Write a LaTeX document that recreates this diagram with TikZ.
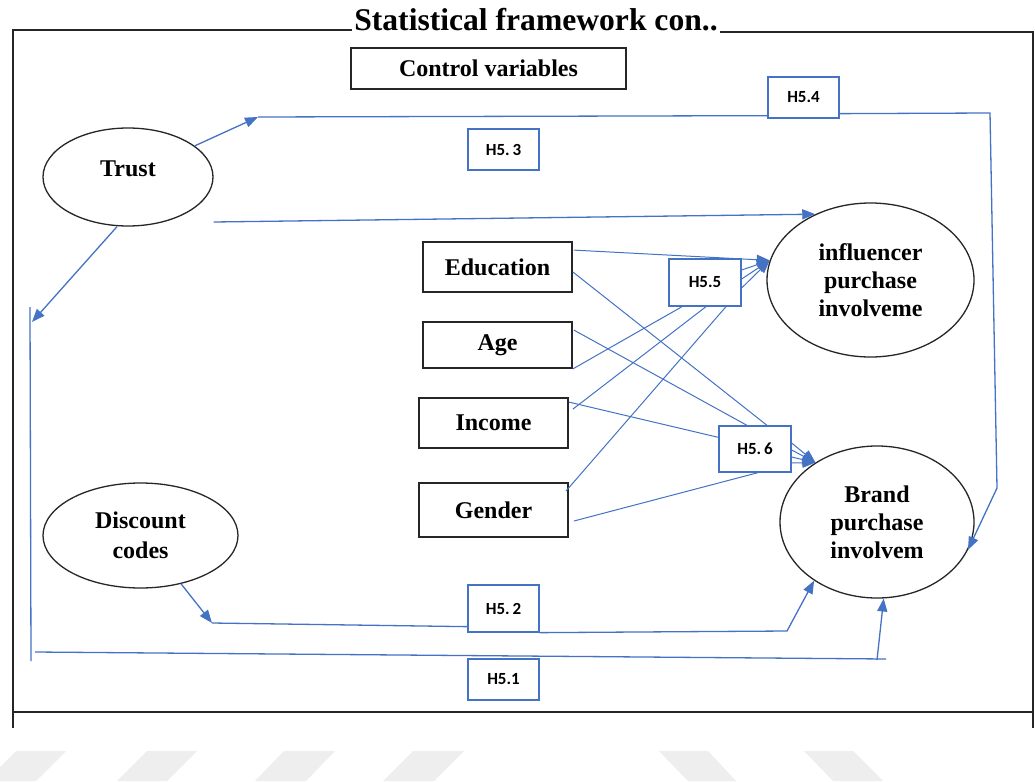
\documentclass[tikz,border=0pt]{standalone}
\usepackage{fontspec}
\setmainfont{Liberation Serif}
\newfontfamily\hfont{Carlito}
\usetikzlibrary{shapes.geometric,arrows.meta,calc}
\definecolor{lnblue}{HTML}{4472C4}
\definecolor{stripegray}{HTML}{EEEEEE}
\begin{document}
\begin{tikzpicture}[x=1pt,y=-1pt,
  blk/.style={draw=black!85, line width=1.8pt, inner sep=0pt, font=\fontsize{24}{28}\selectfont\bfseries, align=center},
  oval/.style={ellipse, draw=black!85, line width=1.3pt, inner sep=0pt, align=center},
  hbox/.style={draw=lnblue, line width=1.3pt, inner sep=0pt, fill=white, font=\hfont\fontsize{17}{19}\selectfont\bfseries},
  ln/.style={draw=lnblue, line width=1.3pt},
  thinln/.style={draw=lnblue, line width=1pt},
  tip/.style={-{Triangle[length=13pt,width=10pt]}},
  frm/.style={draw=black!85, line width=1.8pt}
]
\useasboundingbox (0,0) rectangle (1035,781);
\fill[white] (0,0) rectangle (1035,781);
% watermark stripes
\begin{scope}
\clip (0,0) rectangle (1035,781);
\fill[stripegray] (16,751) -- (66,751) -- (36,781) -- (-14,781) -- cycle;
\fill[stripegray] (147,751) -- (197,751) -- (167,781) -- (117,781) -- cycle;
\fill[stripegray] (284,751) -- (335,751) -- (306,781) -- (255,781) -- cycle;
\fill[stripegray] (413,751) -- (464,751) -- (434,781) -- (383,781) -- cycle;
\fill[stripegray] (659,751) -- (708,751) -- (736,781) -- (688,781) -- cycle;
\fill[stripegray] (804,751) -- (853,751) -- (883,781) -- (833,781) -- cycle;
\end{scope}

% title and frame
\node[font=\fontsize{31.6}{36}\selectfont\bfseries, anchor=base, inner sep=0pt] (title) at (536,31) {Statistical framework con..};
\draw[frm] (13,728) -- (13,30) -- ($(title.base west)+(-2,-1)$);
\draw[frm] ($(title.base east)+(2,1)$) -- (1033,32) -- (1033,728);
\draw[frm] (13,712) -- (1033,712);

% nodes
\node[blk, minimum width=275pt, minimum height=41pt] (ctrl) at (488.5,68.5) {Control variables};
\node[oval, minimum width=170pt, minimum height=98pt, text depth=16pt, font=\fontsize{24}{29}\selectfont\bfseries] (trust) at (128,177) {Trust};
\node[oval, minimum width=195pt, minimum height=105pt, font=\fontsize{24}{30}\selectfont\bfseries] (disc) at (140.5,535.5) {Discount\\codes};
\node[oval, minimum width=207pt, minimum height=154pt, font=\fontsize{24}{28}\selectfont\bfseries] (infl) at (870.5,280) {influencer\\purchase\\involveme};
\node[oval, minimum width=194pt, minimum height=152pt, font=\fontsize{24}{28}\selectfont\bfseries] (brand) at (877,522) {Brand\\purchase\\involvem};

\node[blk, minimum width=149pt, minimum height=50pt] (edu) at (497.5,267) {Education};
\node[blk, minimum width=149pt, minimum height=46pt] (age) at (497.5,345) {Age};
\node[blk, minimum width=149pt, minimum height=50pt] (inc) at (493.5,423) {Income};
\node[blk, minimum width=149pt, minimum height=54pt] (gen) at (493.5,510) {Gender};

\node[hbox, minimum width=71pt, minimum height=41pt] (h54) at (803.5,97.5) {H5.4};
\node[hbox, minimum width=71pt, minimum height=41pt] (h53) at (503.5,149.5) {H5.\,3};
\node[hbox, minimum width=72pt, minimum height=47pt] (h55) at (705,282.5) {H5.5};
\node[hbox, minimum width=72pt, minimum height=46pt] (h56) at (755,449) {H5.\,6};
\node[hbox, minimum width=71pt, minimum height=47pt] (h52) at (503.5,608.5) {H5.\,2};
\node[hbox, minimum width=71pt, minimum height=41pt] (h51) at (503.5,679.5) {H5.1};

% bend / free-end coordinates
\coordinate (a1) at (258,117);
\coordinate (r1) at (990,113);
\coordinate (r2) at (997,488);
\coordinate (t1) at (32,322);
\coordinate (lv1) at (30,307);
\coordinate (lv2) at (31,661);
\coordinate (b1) at (35,652);
\coordinate (b2) at (886,659);
\coordinate (b3) at (877,660);
\coordinate (d1) at (212,623);
\coordinate (d2) at (787,631);

% outer connectors
\draw[ln, tip] (trust.25) -- (a1);
\draw[ln] (a1) -- ($(h54.south west)+(0,-3)$);
\draw[ln, tip] ($(h54.south east)+(0,-5)$) -- (r1) -- (r2) -- (brand.-17);
\draw[ln, tip] ($(trust.east)+(0,45)$) -- (infl.130);
\draw[ln, tip] ($(trust.south)+(-11,0)$) -- (t1);
\draw[ln] (lv1) -- (lv2);
\draw[ln] (b1) -- (b2);
\draw[ln, tip] (b3) -- (brand.-85);
\draw[ln, tip] (disc.-50) -- (d1);
\draw[ln] (d1) -- ($(h52.south west)+(0,-6)$);
\draw[ln, tip] (h52.south east) -- (d2) -- (brand.223);

% control-variable connectors
\draw[thinln, tip] ($(edu.north east)+(1,9)$) -- (infl.169);
\draw[thinln] ($(edu.east)+(0,5)$) -- ($(h56.north)+(12,0)$);
\draw[thinln] ($(age.north east)+(1,9)$) -- ($(h56.north)+(-8,0)$);
\draw[thinln] (age.south east) -- ($(h55.south)+(-23,0)$);
\draw[thinln] ($(inc.north east)+(0,5)$) -- ($(h56.north west)+(0,12)$);
\draw[thinln] ($(inc.north east)+(4,12)$) -- ($(h55.south)+(1,0)$);
\draw[thinln] ($(gen.north east)+(-3,9)$) -- ($(h55.south)+(21,0)$);
\draw[thinln] ($(gen.east)+(5,11)$) -- ($(h56.south)+(3,0)$);
\foreach \dy in {-12.5,-3.5,5.5}
  \draw[thinln, tip] ($(h55.east)+(0,\dy)$) -- (infl.169);
\foreach \dy in {-6,1,8,14}
  \draw[thinln, tip] ($(h56.east)+(0,\dy)$) -- (brand.136);
\end{tikzpicture}
\end{document}
